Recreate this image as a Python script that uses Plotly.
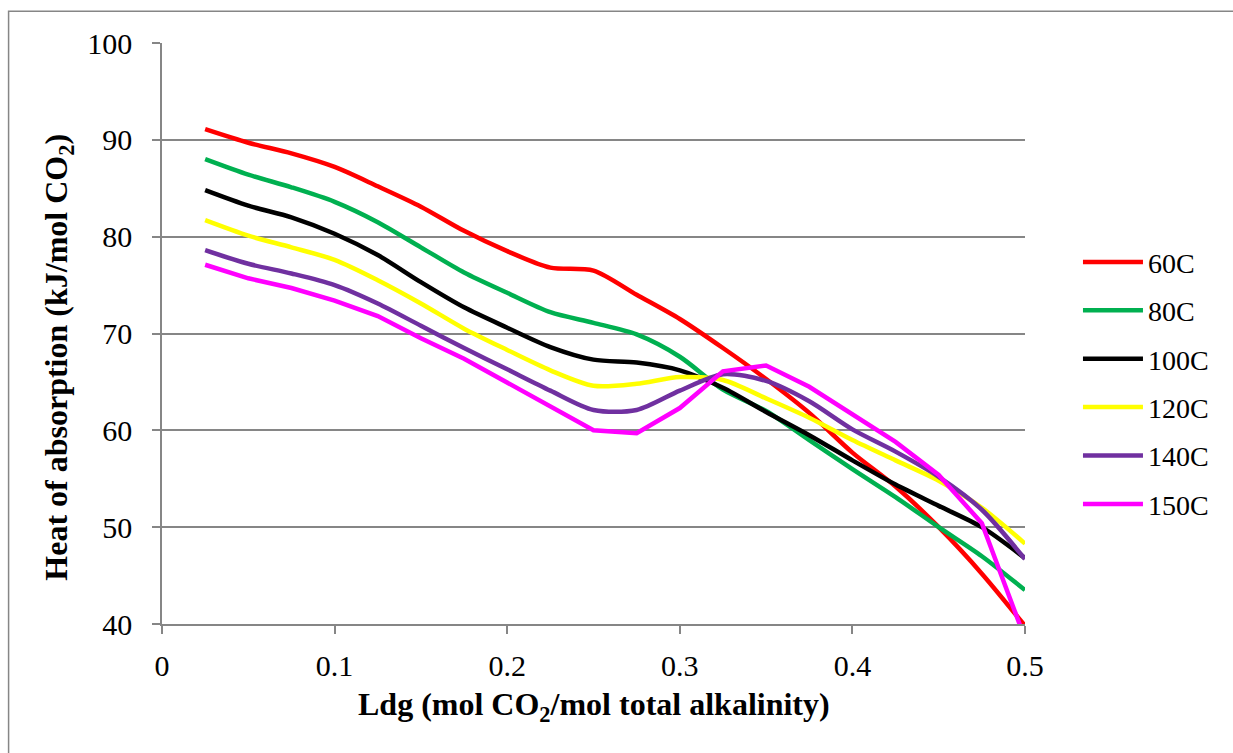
import plotly.graph_objects as go

ldg = [0.025, 0.05, 0.075, 0.1, 0.125, 0.15, 0.175, 0.2, 0.225, 0.25,
       0.275, 0.3, 0.325, 0.35, 0.375, 0.4, 0.425, 0.45, 0.475, 0.5]

h60 = [91.1, 89.7, 88.6, 87.2, 85.2, 83.1, 80.6, 78.5, 76.8, 76.5,
       74.0, 71.5, 68.5, 65.3, 61.8, 57.7, 54.2, 50.0, 45.2, 39.8]
h80 = [88.0, 86.4, 85.1, 83.6, 81.5, 78.9, 76.3, 74.2, 72.2, 71.1,
       69.9, 67.6, 64.2, 62.0, 59.0, 56.0, 53.1, 50.0, 47.0, 43.5]
h100 = [84.8, 83.2, 82.0, 80.3, 78.1, 75.3, 72.7, 70.6, 68.6, 67.3,
        67.0, 66.2, 64.4, 61.9, 59.5, 56.9, 54.4, 52.2, 50.0, 46.8]
h120 = [81.7, 80.1, 78.9, 77.6, 75.5, 73.1, 70.5, 68.3, 66.2, 64.6,
        64.8, 65.5, 65.2, 63.3, 61.3, 59.0, 56.9, 54.8, 52.0, 48.3]
h140 = [78.6, 77.2, 76.2, 75.0, 73.1, 70.8, 68.5, 66.3, 64.1, 62.1,
        62.1, 64.1, 65.8, 65.1, 63.0, 60.1, 57.8, 55.2, 51.8, 46.7]
h150 = [77.1, 75.7, 74.7, 73.4, 71.8, 69.5, 67.4, 64.9, 62.4, 60.0,
        59.7, 62.3, 66.1, 66.7, 64.5, 61.7, 58.8, 55.4, 50.4, 38.5]

series_names = ["60C", "80C", "100C", "120C", "140C", "150C"]
series_vals = [h60, h80, h100, h120, h140, h150]
series_colors = ["#FF0000", "#00B050", "#000000", "#FFFF00", "#7030A0", "#FF00FF"]
series_shapes = ["spline", "spline", "spline", "spline", "spline", "linear"]

x_ticks = [0, 0.1, 0.2, 0.3, 0.4, 0.5]
y_ticks = [40, 50, 60, 70, 80, 90, 100]

FONT = "Liberation Serif"
GRID = "#868686"

fig = go.Figure()
for name, vals, col, shp in zip(series_names, series_vals, series_colors, series_shapes):
    fig.add_trace(go.Scatter(
        x=ldg, y=vals, name=name, mode="lines", legendgroup=name,
        line=dict(color=col, width=4.5, shape=shp, smoothing=0.8),
    ))

W, H = 1233, 753
L, R, T, B = 161.5, 208, 42.7, 129
pw, ph = W - L - R, H - T - B

def px(x):
    return (x - L) / pw

def py(y):
    return (H - B - y) / ph

fig.update_layout(
    width=W, height=H,
    margin=dict(l=L, r=R, t=T, b=B, pad=0),
    paper_bgcolor="white", plot_bgcolor="white",
    font=dict(family=FONT, size=30, color="black"),
    showlegend=True,
    legend=dict(
        x=px(1078), y=py(237), xanchor="left", yanchor="top",
        font=dict(family=FONT, size=28, color="black"),
        tracegroupgap=9, itemwidth=60, bgcolor="rgba(0,0,0,0)",
    ),
    xaxis=dict(
        range=[0, 0.5], tickvals=x_ticks, ticktext=[str(v) for v in x_ticks],
        showgrid=False, zeroline=False, showline=True, linecolor=GRID, linewidth=1.5,
        ticks="outside", ticklen=8, tickcolor=GRID, tickwidth=1.5,
        tickfont=dict(family=FONT, size=30, color="black"),
        ticklabelstandoff=6,
    ),
    yaxis=dict(
        range=[40, 100], tickvals=y_ticks,
        showgrid=True, gridcolor=GRID, gridwidth=1.5,
        zeroline=False, showline=True, linecolor=GRID, linewidth=1.5,
        ticks="outside", ticklen=8, tickcolor=GRID, tickwidth=1.5,
        tickfont=dict(family=FONT, size=30, color="black"),
        ticklabelstandoff=14,
    ),
    annotations=[
        dict(text="<b>Ldg (mol CO<sub>2</sub>/mol total alkalinity)</b>",
             xref="paper", yref="paper", x=0.5, y=py(707),
             xanchor="center", yanchor="middle", showarrow=False,
             font=dict(family=FONT, size=32, color="black")),
        dict(text="<b>Heat of absorption (kJ/mol CO<sub>2</sub>)</b>",
             xref="paper", yref="paper", x=px(58), y=py(357),
             xanchor="center", yanchor="middle", textangle=-90, showarrow=False,
             font=dict(family=FONT, size=32, color="black")),
    ],
    shapes=[
        dict(type="rect", xref="paper", yref="paper",
             x0=px(8), y0=py(780), x1=px(1260), y1=py(11),
             line=dict(color=GRID, width=1.5), layer="below"),
    ],
)

fig.write_html("out.html")
